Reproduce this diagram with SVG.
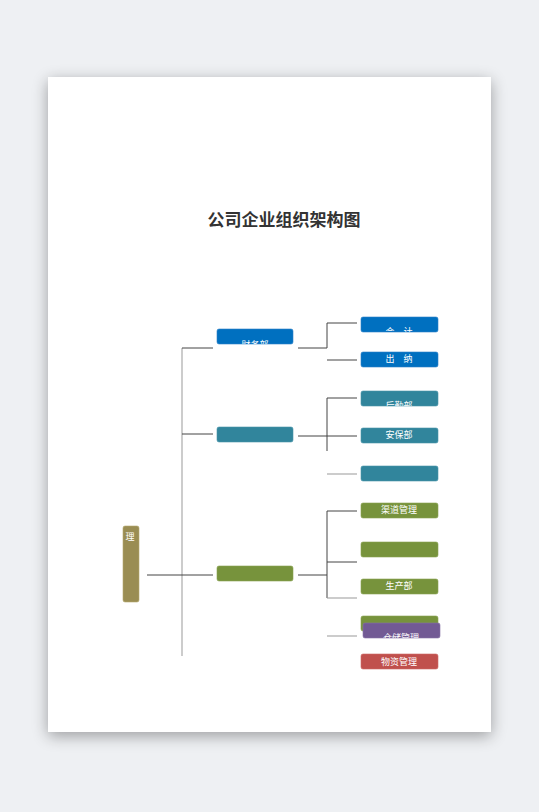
<svg xmlns="http://www.w3.org/2000/svg" width="539" height="812" viewBox="0 0 539 812">
<defs>
<filter id="sh" x="-20%" y="-20%" width="140%" height="140%">
<feGaussianBlur in="SourceAlpha" stdDeviation="8"/>
<feOffset dx="0" dy="4"/>
<feComponentTransfer><feFuncA type="linear" slope="0.35"/></feComponentTransfer>
<feMerge><feMergeNode/><feMergeNode in="SourceGraphic"/></feMerge>
</filter>
<clipPath id="c1"><rect x="217" y="329" width="76" height="15"/></clipPath>
<clipPath id="c2"><rect x="361" y="317" width="77" height="15"/></clipPath>
<clipPath id="c3"><rect x="361" y="391" width="77" height="15"/></clipPath>
<clipPath id="c4"><rect x="363" y="623" width="77" height="15"/></clipPath>
</defs>
<style>
text{font-family:"Noto Sans CJK SC","Liberation Sans",sans-serif}
.t{fill:#fff;font-size:9px;text-anchor:middle}
.ln{stroke:#444;stroke-width:1;fill:none}
.lg{stroke:#999;stroke-width:1;fill:none}
.blue{fill:#0070c0;stroke:#2e82c8;stroke-width:0.6}
.teal{fill:#31859c;stroke:#4a96aa;stroke-width:0.6}
.green{fill:#77933c;stroke:#8aa352;stroke-width:0.6}
</style>
<rect width="539" height="812" fill="#eef0f3"/>
<rect x="48" y="77" width="443" height="655" fill="#fff" filter="url(#sh)"/>
<text x="284" y="226" font-size="17" font-weight="bold" fill="#333" text-anchor="middle">公司企业组织架构图</text>
<g id="connectors">
<path class="lg" d="M182 348V656"/>
<path class="ln" d="M182 348H213M182 434H213M147 575H213"/>
<path class="ln" d="M298 348H327V323H357"/>
<path class="ln" d="M327 360H357"/>
<path class="ln" d="M298 436H357M327 398V451M327 398H357"/>
<path class="lg" d="M327 474H357"/>
<path class="ln" d="M298 575H327M327 511V598M327 511H357M327 562H357"/>
<path class="lg" d="M327 598H357M327 636H357"/>
</g>
<g id="n-root"><rect x="123" y="526" width="16" height="76" rx="2" fill="#9a8d53" stroke="#b5a970" stroke-width="0.6"/><text x="130" y="540" class="t">理</text></g>
<g id="n-finance"><rect x="217" y="329" width="76" height="15" rx="2" class="blue"/><text x="255" y="348" class="t" clip-path="url(#c1)">财务部</text></g>
<g id="n-teal"><rect x="217" y="427" width="76" height="15" rx="2" class="teal"/></g>
<g id="n-green"><rect x="217" y="566" width="76" height="15" rx="2" class="green"/></g>
<g id="n-acc"><rect x="361" y="317" width="77" height="15" rx="2" class="blue"/><text x="399" y="335" class="t" clip-path="url(#c2)">会　计</text></g>
<g id="n-cash"><rect x="361" y="352" width="77" height="15" rx="2" class="blue"/><text x="399" y="362" class="t">出　纳</text></g>
<g id="n-log"><rect x="361" y="391" width="77" height="15" rx="2" class="teal"/><text x="399" y="409" class="t" clip-path="url(#c3)">后勤部</text></g>
<g id="n-sec"><rect x="361" y="428" width="77" height="15" rx="2" class="teal"/><text x="399" y="438" class="t">安保部</text></g>
<g id="n-teal3"><rect x="361" y="466" width="77" height="15" rx="2" class="teal"/></g>
<g id="n-chan"><rect x="361" y="503" width="77" height="15" rx="2" class="green"/><text x="399" y="513" class="t">渠道管理</text></g>
<g id="n-green2"><rect x="361" y="542" width="77" height="15" rx="2" class="green"/></g>
<g id="n-prod"><rect x="361" y="579" width="77" height="15" rx="2" class="green"/><text x="399" y="589" class="t">生产部</text></g>
<g id="n-green4"><rect x="361" y="616" width="77" height="15" rx="2" class="green"/></g>
<g id="n-store"><rect x="363" y="623" width="77" height="15" rx="2" fill="#725a94" stroke="#8672a4" stroke-width="0.6"/><text x="401" y="641" class="t" clip-path="url(#c4)">仓储管理</text></g>
<g id="n-mat"><rect x="361" y="654" width="77" height="15" rx="2" fill="#c0504d" stroke="#cc6a67" stroke-width="0.6"/><text x="399" y="665" class="t">物资管理</text></g>
</svg>
